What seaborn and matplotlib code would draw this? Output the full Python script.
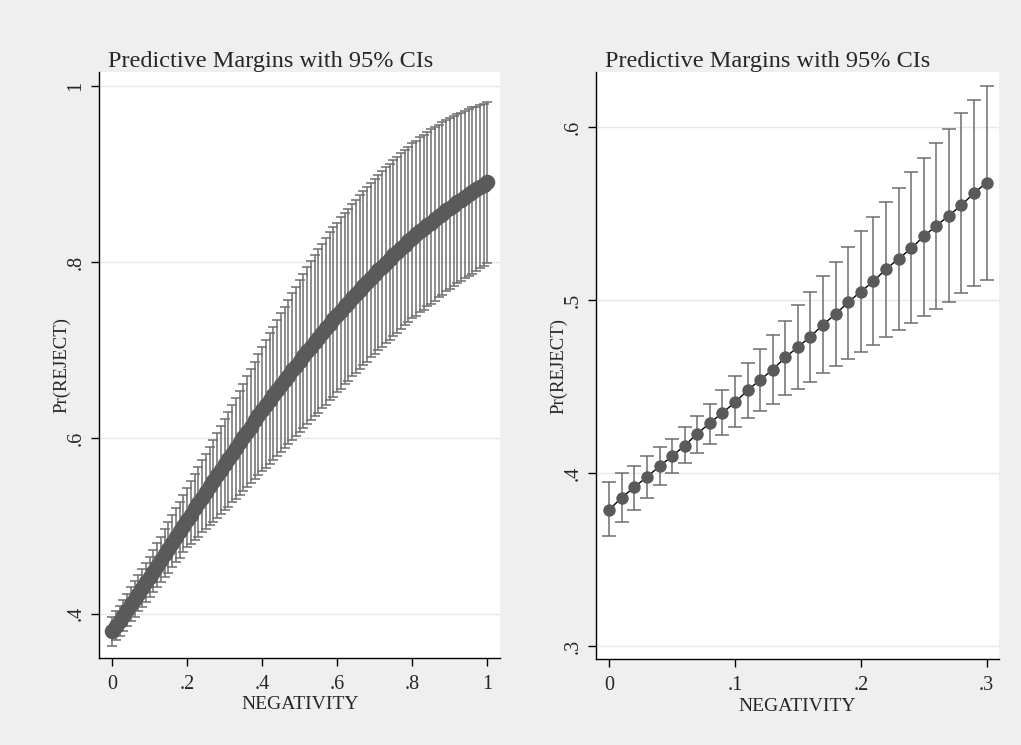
import numpy as np
import pandas as pd
import matplotlib
matplotlib.use("Agg")
import matplotlib.pyplot as plt
import seaborn as sns

# --- values (Stata margins, 95% CIs) ---
# left panel: NEGATIVITY = 0(.01)1
neg_full = np.round(np.arange(0, 101) / 100, 2)
pr_full = [
    .380, .386, .392, .398, .404, .411, .417, .423, .429, .436, .442,
    .448, .455, .461, .468, .474, .481, .487, .494, .500, .507,
    .513, .520, .526, .532, .539, .545, .551, .558, .564, .570,
    .576, .582, .589, .595, .601, .607, .613, .620, .626, .632,
    .638, .643, .649, .655, .660, .666, .671, .677, .682, .688,
    .693, .699, .704, .709, .714, .720, .725, .730, .735, .740,
    .745, .750, .754, .759, .764, .768, .773, .778, .782, .787,
    .791, .795, .799, .804, .808, .812, .816, .820, .824, .828,
    .832, .835, .839, .842, .845, .849, .852, .855, .859, .862,
    .865, .868, .871, .874, .877, .880, .883, .886, .888, .891,
]
hi_full = [
    .396, .403, .409, .416, .423, .430, .437, .444, .451, .458, .465,
    .473, .481, .488, .496, .504, .512, .520, .527, .535, .543,
    .551, .559, .567, .575, .582, .590, .598, .606, .614, .622,
    .630, .638, .646, .654, .662, .671, .679, .687, .695, .703,
    .711, .719, .726, .734, .742, .749, .757, .765, .772, .780,
    .787, .794, .801, .808, .815, .821, .828, .834, .840, .845,
    .851, .856, .861, .866, .871, .876, .881, .886, .890, .895,
    .899, .904, .908, .912, .916, .920, .924, .928, .931, .935,
    .938, .942, .945, .948, .951, .954, .956, .959, .962, .964,
    .966, .968, .970, .972, .974, .976, .977, .979, .980, .982,
]
lo_full = [
    .364, .370, .375, .381, .386, .392, .397, .403, .408, .414, .419,
    .425, .430, .436, .442, .447, .453, .459, .464, .470, .476,
    .480, .484, .488, .493, .497, .501, .505, .509, .514, .518,
    .522, .527, .531, .535, .540, .544, .549, .553, .558, .562,
    .566, .571, .575, .580, .584, .589, .593, .598, .602, .607,
    .611, .616, .620, .625, .629, .634, .638, .643, .647, .652,
    .656, .661, .665, .670, .674, .678, .683, .687, .692, .696,
    .700, .704, .708, .712, .716, .720, .724, .728, .732, .736,
    .739, .743, .746, .750, .753, .756, .760, .763, .767, .770,
    .773, .776, .779, .782, .784, .787, .790, .793, .796, .799,
]

# right panel: NEGATIVITY = 0(.01).3
neg_low = np.round(np.arange(0, 31) / 100, 2)
pr_low = [.379, .386, .392, .398, .404, .410, .416, .423, .429, .435, .441,
          .448, .454, .460, .467, .473, .479, .486, .492, .499, .505,
          .511, .518, .524, .530, .537, .543, .549, .555, .562, .568]
hi_low = [.395, .400, .404, .410, .415, .420, .427, .433, .440, .448, .456,
          .464, .472, .480, .488, .497, .505, .514, .522, .531, .540,
          .548, .557, .565, .574, .582, .591, .599, .608, .616, .624]
lo_low = [.364, .372, .379, .386, .393, .400, .406, .412, .417, .422, .427,
          .432, .436, .440, .445, .449, .453, .458, .462, .466, .470,
          .474, .479, .483, .487, .491, .495, .499, .504, .508, .512]

title = "Predictive Margins with 95% CIs"
x_ticks_full = [0, .2, .4, .6, .8, 1]
x_labels_full = ["0", ".2", ".4", ".6", ".8", "1"]
y_ticks_full = [.4, .6, .8, 1]
y_labels_full = [".4", ".6", ".8", "1"]
x_ticks_low = [0, .1, .2, .3]
x_labels_low = ["0", ".1", ".2", ".3"]
y_ticks_low = [.3, .4, .5, .6]
y_labels_low = [".3", ".4", ".5", ".6"]

df_full = pd.DataFrame({"NEGATIVITY": neg_full, "pr": pr_full, "hi": hi_full, "lo": lo_full})
df_low = pd.DataFrame({"NEGATIVITY": neg_low, "pr": pr_low, "hi": hi_low, "lo": lo_low})

sns.set_theme(style="white")
plt.rcParams["font.family"] = ["Liberation Serif", "DejaVu Serif"]

bg = "#efefef"
dot = "#5a5a5a"
bar = "#6e6e6e"

fig = plt.figure(figsize=(10.21, 7.45), dpi=100, facecolor=bg)
ax1 = fig.add_axes([0.097, 0.117, 0.393, 0.786])
ax2 = fig.add_axes([0.584, 0.115, 0.394, 0.788])


def draw_panel(ax, df, xlim, ylim, xt, xl, yt, yl, msize, cap):
    ax.set_facecolor("white")
    for y in yt:
        ax.axhline(y, color="#e8e8e8", lw=1.0, zorder=0)
    ax.errorbar(df["NEGATIVITY"], df["pr"],
                yerr=[df["pr"] - df["lo"], df["hi"] - df["pr"]],
                fmt="none", ecolor=bar, elinewidth=1.1, capsize=cap, capthick=1.1, zorder=2)
    sns.lineplot(data=df, x="NEGATIVITY", y="pr", ax=ax, color="black", lw=1.0, zorder=3)
    sns.scatterplot(data=df, x="NEGATIVITY", y="pr", ax=ax, color=dot, s=msize,
                    edgecolor=dot, linewidth=0, zorder=4)
    ax.set_xlim(*xlim)
    ax.set_ylim(*ylim)
    ax.set_xticks(xt)
    ax.set_xticklabels(xl)
    ax.set_yticks(yt)
    ax.set_yticklabels(yl, rotation=90, va="center")
    ax.tick_params(axis="both", direction="out", length=6, width=1, color="black",
                   labelsize=14.5, bottom=True, left=True)
    ax.tick_params(axis="x", pad=6)
    ax.tick_params(axis="y", pad=4)
    for s in ["top", "right"]:
        ax.spines[s].set_visible(False)
    for s in ["left", "bottom"]:
        ax.spines[s].set_color("black")
        ax.spines[s].set_linewidth(1.0)
    ax.set_xlabel("NEGATIVITY", fontsize=14, labelpad=2)
    ax.set_ylabel("Pr(REJECT)", fontsize=13.5, labelpad=-3)
    ax.set_title(title, fontsize=17.5, loc="left", x=0.022, pad=4)


draw_panel(ax1, df_full, (-0.0346, 1.0346), (0.35, 1.016),
           x_ticks_full, x_labels_full, y_ticks_full, y_labels_full, 125, 3.5)
draw_panel(ax2, df_low, (-0.0103, 0.3095), (0.2925, 0.6318),
           x_ticks_low, x_labels_low, y_ticks_low, y_labels_low, 80, 5)

fig.savefig("out.png", dpi=100, facecolor=bg)
